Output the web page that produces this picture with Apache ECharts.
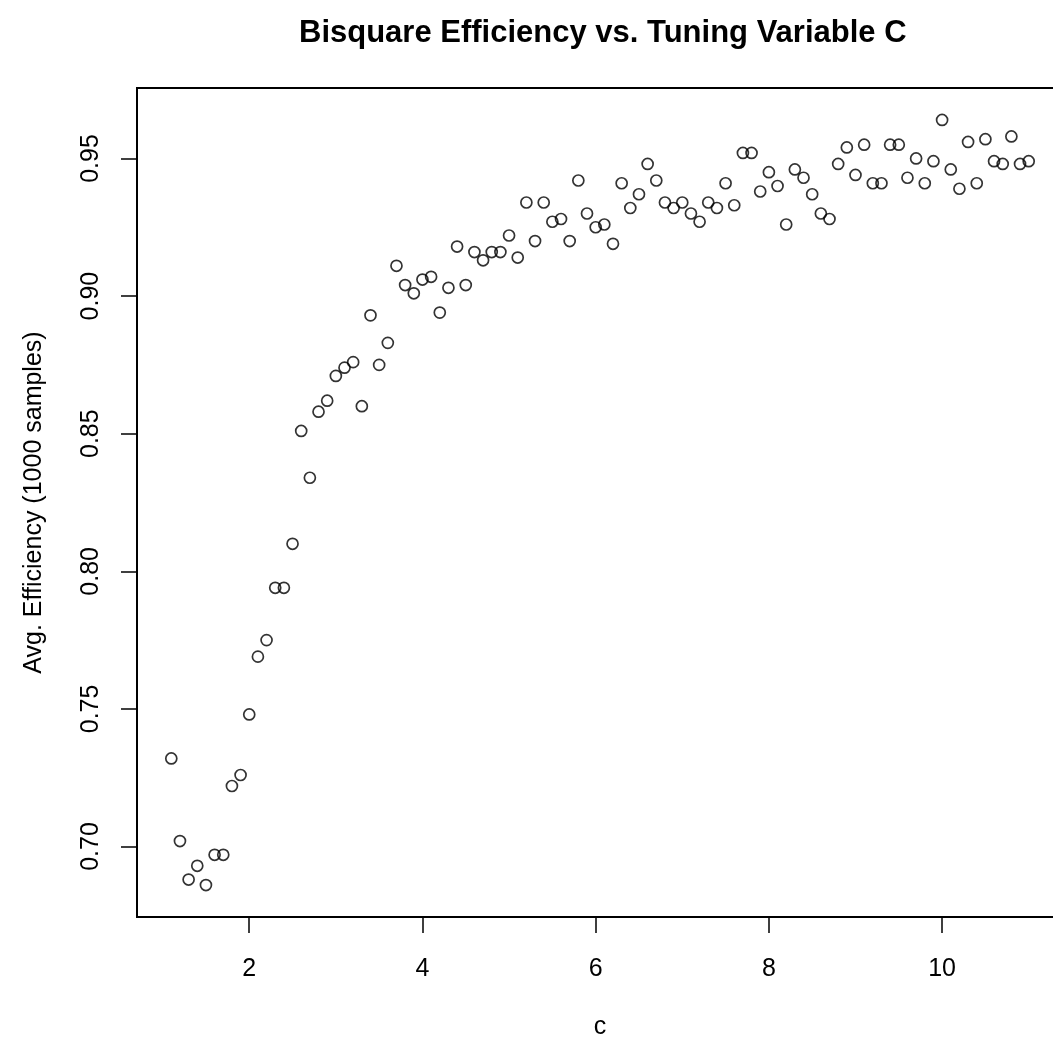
<!DOCTYPE html>
<html>
<head>
<meta charset="utf-8">
<script src="https://cdn.jsdelivr.net/npm/echarts@6/dist/echarts.min.js"></script>
<style>
  html, body { margin: 0; padding: 0; background: #fff; }
  #main { width: 1053px; height: 1042px; }
</style>
</head>
<body>
<div id="main"></div>
<script>
// tuning constant c
var cValues = [1.1, 1.2, 1.3, 1.4, 1.5, 1.6, 1.7, 1.8, 1.9, 2.0,
               2.1, 2.2, 2.3, 2.4, 2.5, 2.6, 2.7, 2.8, 2.9, 3.0,
               3.1, 3.2, 3.3, 3.4, 3.5, 3.6, 3.7, 3.8, 3.9, 4.0,
               4.1, 4.2, 4.3, 4.4, 4.5, 4.6, 4.7, 4.8, 4.9, 5.0,
               5.1, 5.2, 5.3, 5.4, 5.5, 5.6, 5.7, 5.8, 5.9, 6.0,
               6.1, 6.2, 6.3, 6.4, 6.5, 6.6, 6.7, 6.8, 6.9, 7.0,
               7.1, 7.2, 7.3, 7.4, 7.5, 7.6, 7.7, 7.8, 7.9, 8.0,
               8.1, 8.2, 8.3, 8.4, 8.5, 8.6, 8.7, 8.8, 8.9, 9.0,
               9.1, 9.2, 9.3, 9.4, 9.5, 9.6, 9.7, 9.8, 9.9, 10.0,
               10.1, 10.2, 10.3, 10.4, 10.5, 10.6, 10.7, 10.8, 10.9, 11.0];
// avg efficiency over 1000 samples
var efficiency = [0.732, 0.702, 0.688, 0.693, 0.686, 0.697, 0.697, 0.722, 0.726, 0.748,
                  0.769, 0.775, 0.794, 0.794, 0.810, 0.851, 0.834, 0.858, 0.862, 0.871,
                  0.874, 0.876, 0.860, 0.893, 0.875, 0.883, 0.911, 0.904, 0.901, 0.906,
                  0.907, 0.894, 0.903, 0.918, 0.904, 0.916, 0.913, 0.916, 0.916, 0.922,
                  0.914, 0.934, 0.920, 0.934, 0.927, 0.928, 0.920, 0.942, 0.930, 0.925,
                  0.926, 0.919, 0.941, 0.932, 0.937, 0.948, 0.942, 0.934, 0.932, 0.934,
                  0.930, 0.927, 0.934, 0.932, 0.941, 0.933, 0.952, 0.952, 0.938, 0.945,
                  0.940, 0.926, 0.946, 0.943, 0.937, 0.930, 0.928, 0.948, 0.954, 0.944,
                  0.955, 0.941, 0.941, 0.955, 0.955, 0.943, 0.950, 0.941, 0.949, 0.964,
                  0.946, 0.939, 0.956, 0.941, 0.957, 0.949, 0.948, 0.958, 0.948, 0.949];
var xTicks = [2, 4, 6, 8, 10];
var yTicks = [0.70, 0.75, 0.80, 0.85, 0.90, 0.95];

var points = cValues.map(function (c, i) { return [c, efficiency[i]]; });

var myChart = echarts.init(document.getElementById('main'));
var font = 'Liberation Sans, Arial, sans-serif';

var option = {
    animation: false,
    backgroundColor: '#fff',
    title: {
        text: 'Bisquare Efficiency vs. Tuning Variable C',
        left: 294,
        top: 13,
        textStyle: { fontFamily: font, fontSize: 31, fontWeight: 'bold', color: '#000' }
    },
    grid: {
        // plot box runs past the right edge of the picture, as in the original
        left: 137, top: 88, width: 926, height: 829,
        outerBoundsMode: 'none',
        containLabel: false,
        show: true, borderColor: '#000', borderWidth: 2, backgroundColor: 'transparent'
    },
    xAxis: {
        type: 'value',
        min: 0.704, max: 11.396,
        name: 'c',
        nameLocation: 'middle',
        nameGap: 98,
        nameTextStyle: { fontFamily: font, fontSize: 25, color: '#000' },
        axisLine: { show: false },
        splitLine: { show: false },
        axisTick: { show: true, customValues: xTicks, length: 16, lineStyle: { color: '#000', width: 1.5 } },
        axisLabel: { customValues: xTicks, margin: 40, fontFamily: font, fontSize: 25, color: '#000' }
    },
    yAxis: {
        type: 'value',
        min: 0.6744, max: 0.9756,
        name: 'Avg. Efficiency (1000 samples)',
        nameLocation: 'middle',
        nameGap: 90,
        nameTextStyle: { fontFamily: font, fontSize: 25, color: '#000' },
        axisLine: { show: false },
        splitLine: { show: false },
        axisTick: { show: true, customValues: yTicks, length: 16, lineStyle: { color: '#000', width: 1.5 } },
        axisLabel: {
            customValues: yTicks, rotate: 90, margin: 33,
            fontFamily: font, fontSize: 25, color: '#000',
            formatter: function (v) { return v.toFixed(2); }
        }
    },
    series: [{
        type: 'scatter',
        data: points,
        symbol: 'circle',
        symbolSize: 11,
        itemStyle: { color: 'rgba(0,0,0,0)', borderColor: '#000', borderWidth: 1.7 }
    }]
};

myChart.setOption(option);
</script>
</body>
</html>
